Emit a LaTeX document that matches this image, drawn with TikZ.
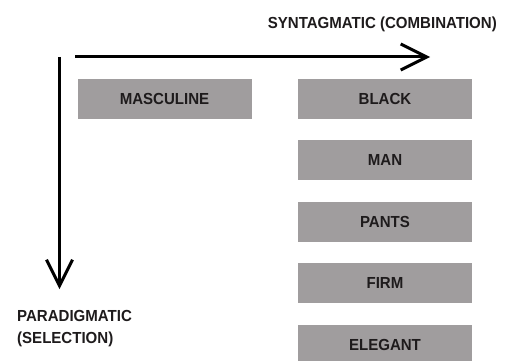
\documentclass[tikz,border=0pt]{standalone}
\usepackage{fontspec}
\newfontfamily\labelfamily{Liberation Sans}[FakeStretch=0.94]
\usepackage{tikz}
\usetikzlibrary{arrows.meta,positioning}
\definecolor{boxgray}{RGB}{160,157,158}
\definecolor{inkgray}{RGB}{30,27,28}
\newcommand{\axiswidth}{3pt}
\newcommand{\labelfont}{\labelfamily\fontsize{16}{22}\selectfont\bfseries}

\begin{document}
\begin{tikzpicture}[x=1pt,y=-1pt,
  wordbox/.style={fill=boxgray,text=inkgray,minimum width=174pt,minimum height=40pt,inner sep=0pt,font=\labelfont},
  axislabel/.style={text=inkgray,font=\labelfont,inner sep=0pt,align=left},
  axis/.style={draw=black,line width=\axiswidth,-{Straight Barb[length=26pt,width=26pt,line width=\axiswidth]}}]
\clip (0,0) rectangle (506,361);
\node[wordbox] (masculine) at (164.5,99) {MASCULINE};
\node[wordbox] (black) at (385,99) {BLACK};
\node[wordbox,below=21pt of black] (man) {MAN};
\node[wordbox,below=21pt of man] (pants) {PANTS};
\node[wordbox,below=21pt of pants] (firm) {FIRM};
\node[wordbox,below=21pt of firm] (elegant) {ELEGANT};
%axes
\coordinate (synstart) at (75,57);
\coordinate (synend) at (430,57);
\coordinate (parstart) at (59.5,57);
\coordinate (parend) at (59.5,289);
\draw[axis] (synstart) -- (synend);
\draw[axis] (parstart) -- (parend);
\node[axislabel,anchor=east] (syntagmatic) at (497,24) {SYNTAGMATIC (COMBINATION)};
\node[axislabel,anchor=west] (paradigmatic) at (17,329) {PARADIGMATIC\\(SELECTION)};
\end{tikzpicture}
\end{document}
